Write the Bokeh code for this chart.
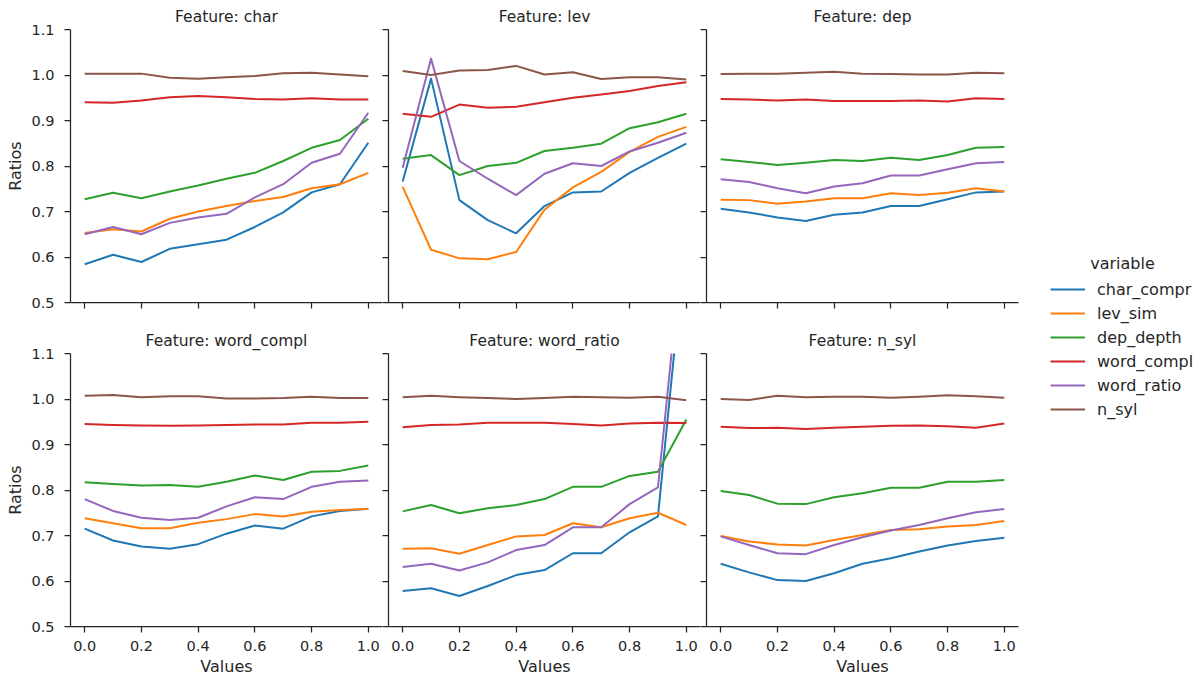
from bokeh.plotting import figure
from bokeh.layouts import row, column
from bokeh.models import Range1d, FixedTicker, Legend, LegendItem, Label, CustomLabelingPolicy
from bokeh.embed import file_html
from bokeh.resources import INLINE

x_values = [0.0, 0.1, 0.2, 0.3, 0.4, 0.5, 0.6, 0.7, 0.8, 0.9, 1.0]
features = ["char", "lev", "dep", "word_compl", "word_ratio", "n_syl"]
variables = ["char_compr", "lev_sim", "dep_depth", "word_compl", "word_ratio", "n_syl"]
colors = ["#1f77b4", "#ff7f0e", "#2ca02c", "#d62728", "#9467bd", "#8c564b"]
x_ticks = [0.0, 0.2, 0.4, 0.6, 0.8, 1.0]
x_tick_labels = ["0.0", "0.2", "0.4", "0.6", "0.8", "1.0"]
y_ticks = [0.5, 0.6, 0.7, 0.8, 0.9, 1.0, 1.1]
y_tick_labels = ["0.5", "0.6", "0.7", "0.8", "0.9", "1.0", "1.1"]

char_vals = {
    "char_compr": [0.584, 0.605, 0.589, 0.618, 0.628, 0.638, 0.666, 0.698, 0.742, 0.760, 0.851],
    "lev_sim":    [0.653, 0.661, 0.656, 0.684, 0.700, 0.712, 0.723, 0.732, 0.751, 0.760, 0.785],
    "dep_depth":  [0.727, 0.741, 0.729, 0.744, 0.757, 0.772, 0.785, 0.811, 0.840, 0.857, 0.904],
    "word_compl": [0.940, 0.939, 0.944, 0.951, 0.954, 0.951, 0.947, 0.946, 0.949, 0.946, 0.946],
    "word_ratio": [0.650, 0.666, 0.650, 0.675, 0.687, 0.695, 0.731, 0.760, 0.807, 0.827, 0.917],
    "n_syl":      [1.003, 1.003, 1.003, 0.994, 0.992, 0.995, 0.998, 1.004, 1.005, 1.001, 0.997],
}
lev_vals = {
    "char_compr": [0.766, 0.992, 0.725, 0.681, 0.652, 0.712, 0.742, 0.744, 0.785, 0.818, 0.849],
    "lev_sim":    [0.754, 0.616, 0.597, 0.595, 0.611, 0.704, 0.753, 0.787, 0.831, 0.864, 0.886],
    "dep_depth":  [0.816, 0.824, 0.780, 0.800, 0.807, 0.833, 0.840, 0.849, 0.883, 0.896, 0.915],
    "word_compl": [0.915, 0.908, 0.935, 0.928, 0.930, 0.940, 0.950, 0.957, 0.965, 0.976, 0.984],
    "word_ratio": [0.796, 1.036, 0.811, 0.772, 0.736, 0.783, 0.806, 0.800, 0.832, 0.851, 0.873],
    "n_syl":      [1.009, 1.000, 1.010, 1.011, 1.020, 1.001, 1.006, 0.991, 0.995, 0.995, 0.990],
}
dep_vals = {
    "char_compr": [0.706, 0.698, 0.687, 0.679, 0.693, 0.698, 0.712, 0.712, 0.727, 0.742, 0.744],
    "lev_sim":    [0.726, 0.725, 0.717, 0.722, 0.729, 0.729, 0.740, 0.736, 0.741, 0.751, 0.744],
    "dep_depth":  [0.815, 0.809, 0.802, 0.807, 0.813, 0.811, 0.818, 0.813, 0.824, 0.840, 0.842],
    "word_compl": [0.947, 0.946, 0.944, 0.946, 0.943, 0.943, 0.943, 0.944, 0.942, 0.949, 0.947],
    "word_ratio": [0.771, 0.765, 0.751, 0.740, 0.755, 0.762, 0.779, 0.779, 0.793, 0.806, 0.809],
    "n_syl":      [1.002, 1.003, 1.003, 1.005, 1.007, 1.003, 1.002, 1.001, 1.001, 1.005, 1.004],
}
word_compl_vals = {
    "char_compr": [0.715, 0.689, 0.676, 0.671, 0.681, 0.704, 0.722, 0.715, 0.742, 0.754, 0.759],
    "lev_sim":    [0.738, 0.727, 0.716, 0.716, 0.728, 0.736, 0.747, 0.742, 0.752, 0.756, 0.758],
    "dep_depth":  [0.817, 0.813, 0.810, 0.811, 0.807, 0.818, 0.832, 0.822, 0.840, 0.842, 0.854],
    "word_compl": [0.945, 0.943, 0.942, 0.941, 0.942, 0.943, 0.944, 0.944, 0.948, 0.948, 0.950],
    "word_ratio": [0.780, 0.754, 0.739, 0.734, 0.739, 0.764, 0.784, 0.780, 0.807, 0.818, 0.821],
    "n_syl":      [1.007, 1.009, 1.004, 1.006, 1.006, 1.001, 1.001, 1.002, 1.005, 1.002, 1.002],
}
word_ratio_vals = {
    "char_compr": [0.578, 0.584, 0.567, 0.589, 0.613, 0.624, 0.661, 0.661, 0.707, 0.742, 1.370],
    "lev_sim":    [0.671, 0.672, 0.660, 0.679, 0.698, 0.701, 0.727, 0.718, 0.738, 0.750, 0.723],
    "dep_depth":  [0.753, 0.767, 0.749, 0.760, 0.767, 0.780, 0.807, 0.807, 0.831, 0.840, 0.955],
    "word_compl": [0.938, 0.943, 0.944, 0.948, 0.948, 0.948, 0.945, 0.942, 0.946, 0.948, 0.947],
    "word_ratio": [0.631, 0.638, 0.623, 0.641, 0.668, 0.679, 0.718, 0.718, 0.769, 0.806, 1.420],
    "n_syl":      [1.004, 1.007, 1.004, 1.002, 1.000, 1.002, 1.005, 1.004, 1.003, 1.005, 0.997],
}
n_syl_vals = {
    "char_compr": [0.638, 0.619, 0.602, 0.600, 0.617, 0.638, 0.650, 0.665, 0.678, 0.688, 0.695],
    "lev_sim":    [0.699, 0.687, 0.680, 0.678, 0.690, 0.701, 0.712, 0.714, 0.720, 0.723, 0.732],
    "dep_depth":  [0.798, 0.789, 0.770, 0.769, 0.784, 0.793, 0.805, 0.805, 0.818, 0.818, 0.822],
    "word_compl": [0.939, 0.936, 0.937, 0.934, 0.937, 0.939, 0.941, 0.942, 0.940, 0.937, 0.946],
    "word_ratio": [0.698, 0.679, 0.661, 0.659, 0.679, 0.696, 0.711, 0.723, 0.738, 0.751, 0.758],
    "n_syl":      [1.000, 0.998, 1.007, 1.004, 1.005, 1.005, 1.003, 1.005, 1.008, 1.006, 1.003],
}
panel_values = [char_vals, lev_vals, dep_vals, word_compl_vals, word_ratio_vals, n_syl_vals]

TXT = "#262626"
FONT = "DejaVu Sans"


def style_axis(ax, show_labels, standoff):
    ax.axis_line_color = TXT
    ax.axis_line_width = 1.25
    ax.major_tick_line_color = TXT
    ax.major_tick_line_width = 1.25
    ax.major_tick_out = 6
    ax.major_tick_in = 0
    ax.minor_tick_out = 0
    ax.minor_tick_in = 0
    ax.major_label_text_font = FONT
    ax.major_label_text_color = TXT
    ax.axis_label_text_font = FONT
    ax.axis_label_text_color = TXT
    ax.axis_label_text_font_size = "16px"
    ax.axis_label_text_font_style = "normal"
    if show_labels:
        ax.major_label_text_font_size = "14.5px"
        ax.major_label_standoff = standoff
    else:
        ax.major_label_text_font_size = "0px"
        ax.major_label_standoff = 0
        ax.major_label_policy = CustomLabelingPolicy(code="return []")


figs = []
for i, (feat, vals) in enumerate(zip(features, panel_values)):
    r, c = divmod(i, 3)
    p = figure(frame_width=312, frame_height=273,
               x_range=Range1d(-0.05, 1.05), y_range=Range1d(0.5, 1.1),
               output_backend="svg", toolbar_location=None,
               title="Feature: " + feat,
               min_border_left=70 if c == 0 else 0,
               min_border_right=0 if c < 2 else 3,
               min_border_top=29 if r == 0 else 31,
               min_border_bottom=20 if r == 0 else 50)
    p.title.align = "center"
    p.title.text_font = FONT
    p.title.text_font_size = "15.5px"
    p.title.text_font_style = "normal"
    p.title.text_color = TXT
    p.title.standoff = 8
    p.outline_line_color = None
    p.xgrid.visible = False
    p.ygrid.visible = False
    p.background_fill_color = "white"
    p.border_fill_color = "white"

    p.xaxis.ticker = FixedTicker(ticks=x_ticks)
    p.xaxis.major_label_overrides = {t: l for t, l in zip(x_ticks, x_tick_labels)}
    p.yaxis.ticker = FixedTicker(ticks=y_ticks)
    p.yaxis.major_label_overrides = {t: l for t, l in zip(y_ticks, y_tick_labels)}
    style_axis(p.xaxis[0], r == 1, 8)
    style_axis(p.yaxis[0], c == 0, 10)
    if c == 0:
        p.yaxis.axis_label = "Ratios"
        p.yaxis.axis_label_standoff = 3
    if r == 1:
        p.xaxis.axis_label = "Values"
        p.xaxis.axis_label_standoff = 3

    for v, col in zip(variables, colors):
        p.line(x_values, vals[v], line_color=col, line_width=2, line_join="round")
    figs.append(p)

H = 29 + 273 + 20 + 31 + 273 + 50
nan = float("nan")
lf = figure(width=172, height=H, x_range=Range1d(0, 1), y_range=Range1d(0, 1),
            output_backend="svg", toolbar_location=None, min_border=0,
            x_axis_location=None, y_axis_location=None)
lf.outline_line_color = None
lf.xgrid.visible = False
lf.ygrid.visible = False
items = []
for v, col in zip(variables, colors):
    rr = lf.line([nan], [nan], line_color=col, line_width=2)
    items.append(LegendItem(label=v, renderers=[rr]))
leg = Legend(items=items, location=(29, H - 419), padding=0, margin=0,
             border_line_color=None, background_fill_alpha=0,
             glyph_width=35, glyph_height=20, label_height=20, spacing=4,
             label_standoff=12, label_text_font=FONT, label_text_font_size="16px",
             label_text_color=TXT)
lf.add_layout(leg)
lf.add_layout(Label(x=101, y=H - 263, x_units="screen", y_units="screen", text="variable",
                    text_align="center", text_baseline="middle", text_font=FONT,
                    text_font_size="16px", text_color=TXT))

grid = column(row(figs[0], figs[1], figs[2]), row(figs[3], figs[4], figs[5]))
layout = row(grid, lf)

open("out.html", "w").write(file_html(layout, INLINE))
